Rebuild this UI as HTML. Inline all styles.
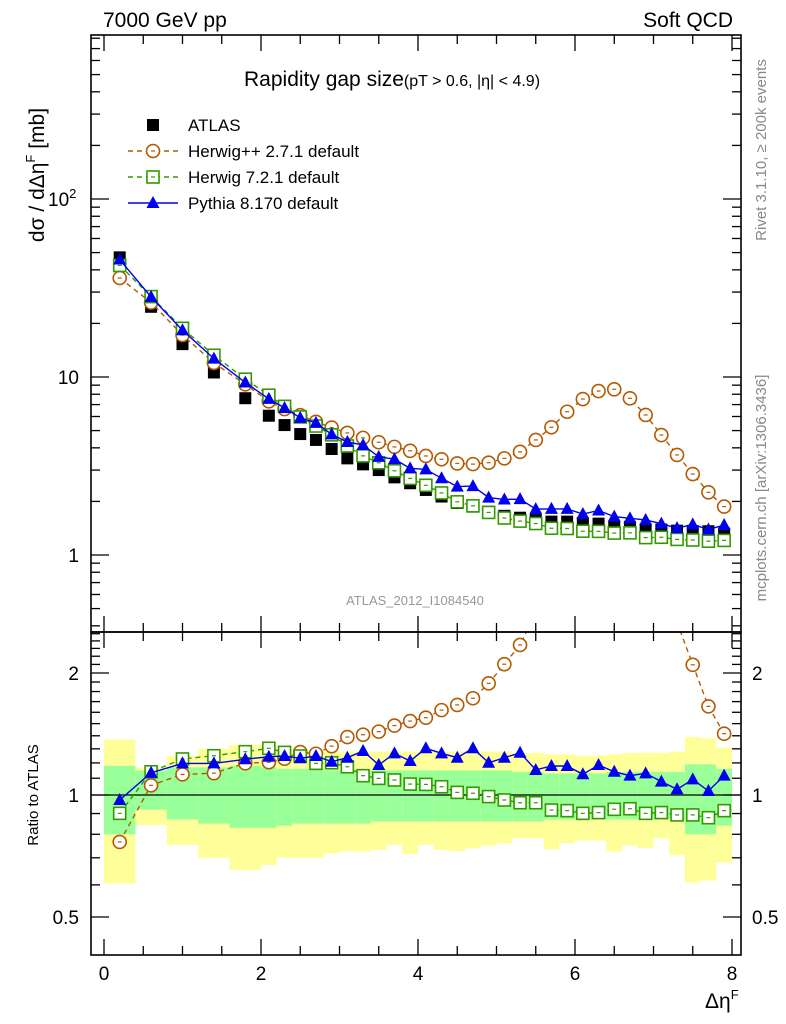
<!DOCTYPE html>
<html><head><meta charset="utf-8"><style>
body{margin:0;background:#fff;}
svg{display:block;font-family:"Liberation Sans",Arial,sans-serif;}
</style></head><body>
<svg id="chart" width="786" height="1024" viewBox="0 0 786 1024"></svg>
<script>
// ---- data ----
const binEdges = [0,0.4,0.8,1.2,1.6,2.0,2.2,2.4,2.6,2.8,3.0,3.2,3.4,3.6,3.8,4.0,4.2,4.4,4.6,4.8,5.0,5.2,5.4,5.6,5.8,6.0,6.2,6.4,6.6,6.8,7.0,7.2,7.4,7.6,7.8,8.0];
const atlasValues = [47,24.8,15.3,10.6,7.6,6.06,5.37,4.78,4.43,3.94,3.49,3.23,3.0,2.73,2.53,2.32,2.13,1.96,1.87,1.75,1.66,1.62,1.57,1.54,1.54,1.51,1.50,1.44,1.44,1.39,1.39,1.37,1.36,1.36,1.32];
const herwigPPValues = [36,26.2,17.2,12.0,9.1,7.3,6.6,6.1,5.6,5.2,4.85,4.55,4.3,4.05,3.85,3.60,3.45,3.27,3.24,3.30,3.49,3.80,4.43,5.22,6.38,7.52,8.34,8.53,7.59,6.12,4.72,3.65,2.85,2.25,1.87];
const herwig7OverData = [0.901,1.141,1.227,1.25,1.279,1.304,1.274,1.248,1.197,1.201,1.174,1.116,1.099,1.089,1.064,1.062,1.048,1.015,1.01,0.991,0.972,0.957,0.957,0.918,0.915,0.901,0.905,0.922,0.925,0.901,0.905,0.893,0.893,0.879,0.915];
const pythiaOverData = [0.972,1.135,1.197,1.197,1.225,1.243,1.248,1.232,1.248,1.208,1.236,1.284,1.186,1.267,1.213,1.304,1.267,1.236,1.304,1.201,1.236,1.271,1.153,1.179,1.179,1.125,1.186,1.141,1.116,1.131,1.079,1.033,1.093,1.023,1.116];
const yellowUp = [1.37,1.17,1.25,1.30,1.33,1.32,1.30,1.30,1.29,1.28,1.28,1.28,1.28,1.28,1.28,1.28,1.28,1.28,1.28,1.28,1.28,1.27,1.27,1.26,1.26,1.25,1.25,1.26,1.27,1.27,1.27,1.28,1.39,1.38,1.31];
const greenUp = [1.18,1.15,1.17,1.17,1.18,1.17,1.16,1.16,1.16,1.15,1.15,1.15,1.15,1.15,1.15,1.15,1.15,1.15,1.15,1.15,1.15,1.14,1.14,1.13,1.13,1.13,1.13,1.14,1.14,1.14,1.14,1.14,1.19,1.19,1.16];
const greenDn = [0.80,0.92,0.87,0.85,0.83,0.83,0.84,0.85,0.85,0.85,0.85,0.85,0.86,0.86,0.86,0.86,0.86,0.86,0.86,0.86,0.86,0.86,0.86,0.87,0.87,0.87,0.87,0.87,0.87,0.87,0.87,0.87,0.80,0.80,0.84];
const yellowDn = [0.605,0.843,0.753,0.70,0.653,0.672,0.70,0.70,0.70,0.718,0.725,0.725,0.732,0.753,0.715,0.753,0.732,0.727,0.739,0.75,0.76,0.782,0.782,0.735,0.76,0.772,0.772,0.725,0.75,0.739,0.782,0.711,0.608,0.615,0.681];
const xTickLabels = [0,2,4,6,8];
const ratioTickLabels = [0.5,1,2];

// ---- axes ----
const L=91,R=741,T=35,MID=632,B=955;
const X=v=>104+v*78.5;
const YT=v=>555-178*Math.log10(v);
const YR=r=>795-122*Math.log2(r);
const NS="http://www.w3.org/2000/svg";
const svg=document.getElementById('chart');
function mk(tag,attrs,parent){const e=document.createElementNS(NS,tag);for(const k in attrs)e.setAttribute(k,attrs[k]);(parent||svg).appendChild(e);return e;}
const centers=binEdges.slice(0,-1).map((e,i)=>(e+binEdges[i+1])/2);
const herwig7Values=atlasValues.map((d,i)=>d*herwig7OverData[i]);
const pythiaValues=atlasValues.map((d,i)=>d*pythiaOverData[i]);

const defs=mk('defs',{});
const c1=mk('clipPath',{id:'cTop'},defs);mk('rect',{x:L,y:T,width:R-L,height:MID-T},c1);
const c2=mk('clipPath',{id:'cRat'},defs);mk('rect',{x:L,y:MID,width:R-L,height:B-MID},c2);

// bands
const gBand=mk('g',{'clip-path':'url(#cRat)'});


binEdges.slice(0,-1).forEach((e,i)=>{
  const x0=X(e),x1=X(binEdges[i+1]);
  const y=mk('rect',{x:x0,y:YR(yellowUp[i]),width:x1-x0,height:YR(yellowDn[i])-YR(yellowUp[i]),fill:'#ffff99'},gBand);
  
  
  const g=mk('rect',{x:x0,y:YR(greenUp[i]),width:x1-x0,height:YR(greenDn[i])-YR(greenUp[i]),fill:'#99ff99'},gBand);
  
  
});
const one=mk('line',{x1:L,x2:R,y1:YR(1),y2:YR(1),stroke:'#000','stroke-width':1.2});



// series drawing
function drawMarker(g,type,x,y,color){
  if(type==='circle'){mk('circle',{cx:x,cy:y,r:6.5,fill:'#fff',stroke:color,'stroke-width':1.6},g);mk('line',{x1:x-2,x2:x+2,y1:y,y2:y,stroke:color,'stroke-width':1.2},g);}
  else if(type==='square'){mk('rect',{x:x-6,y:y-6,width:12,height:12,fill:'#fff',stroke:color,'stroke-width':1.6},g);mk('line',{x1:x-2,x2:x+2,y1:y,y2:y,stroke:color,'stroke-width':1.2},g);}
  else if(type==='tri'){mk('polygon',{points:`${x},${y-7} ${x-6.5},${y+5} ${x+6.5},${y+5}`,fill:color},g);}
  else if(type==='data'){mk('rect',{x:x-6,y:y-6,width:12,height:12,fill:'#000'},g);}
}
function series(name,vals,yf,clip,color,dash,type,line){
  const g=mk('g',{'clip-path':`url(#${clip})`});
  
  
  if(line){
    const pts=vals.map((v,i)=>`${X(centers[i]).toFixed(1)},${yf(v).toFixed(1)}`).join(' ');
    mk('polyline',{points:pts,fill:'none',stroke:color,'stroke-width':1.4,'stroke-dasharray':dash||'none'},g);
  }
  vals.forEach((v,i)=>drawMarker(g,type,X(centers[i]),yf(v),color));
}
series('atlas-data-points',atlasValues,YT,'cTop','#000',null,'data',false);
series('herwigpp-curve',herwigPPValues,YT,'cTop','#b35900','5,4','circle',true);
series('herwig7-curve',herwig7Values,YT,'cTop','#339900','5,4','square',true);
series('pythia-curve',pythiaValues,YT,'cTop','#0000ee',null,'tri',true);
series('herwigpp-ratio',herwigPPValues.map((v,i)=>v/atlasValues[i]),YR,'cRat','#b35900','5,4','circle',true);
series('herwig7-ratio',herwig7OverData,YR,'cRat','#339900','5,4','square',true);
series('pythia-ratio',pythiaOverData,YR,'cRat','#0000ee',null,'tri',true);

// frames
[[T,MID,'top-panel-frame'],[MID,B,'ratio-panel-frame']].forEach(([a,b,n])=>{
  const r=mk('rect',{x:L,y:a,width:R-L,height:b-a,fill:'none',stroke:'#000','stroke-width':1.6});
  
  
});
// x ticks
const tk=mk('g',{stroke:'#000','stroke-width':1.3});


for(let v=0;v<=8.01;v+=0.5){
  const x=X(v),major=Math.abs(v-Math.round(v/2)*2)<1e-6,l=major?16:9;
  [[T,1],[MID,-1],[MID,1],[B,-1]].forEach(([y,s])=>mk('line',{x1:x,x2:x,y1:y,y2:y+s*l},tk));
}
// top y ticks
for(let d=-1;d<=2;d++)for(let m=1;m<=9;m++){
  const v=m*Math.pow(10,d),y=YT(v);if(y<T||y>MID)continue;
  const l=m===1?18:9;
  mk('line',{x1:L,x2:L+l,y1:y,y2:y},tk);mk('line',{x1:R,x2:R-l,y1:y,y2:y},tk);
}
// ratio y ticks
for(let v=0.4;v<=2.55;v+=0.1){
  const y=YR(v);if(y<MID||y>B)continue;
  const major=[0.5,1,2].some(z=>Math.abs(z-v)<1e-6);const l=major?18:9;
  mk('line',{x1:L,x2:L+l,y1:y,y2:y},tk);mk('line',{x1:R,x2:R-l,y1:y,y2:y},tk);
}
function txt(s,attrs,name){const t=mk('text',attrs);t.innerHTML=s;return t;}
xTickLabels.forEach(v=>txt(String(v),{x:X(v),y:980,'font-size':19,'text-anchor':'middle'},'x-tick-label'));
ratioTickLabels.forEach(v=>{
  txt(String(v),{x:79,y:YR(v)+7,'font-size':19,'text-anchor':'end'},'ratio-tick-label-left');
  txt(String(v),{x:752,y:YR(v)+7,'font-size':19,'text-anchor':'start'},'ratio-tick-label-right');
});
txt('10<tspan dy="-8" font-size="13">2</tspan>',{x:48,y:YT(100)+7,'font-size':19},'y-tick-label-100');
txt('10',{x:79,y:YT(10)+7,'font-size':19,'text-anchor':'end'},'y-tick-label-10');
txt('1',{x:79,y:YT(1)+7,'font-size':19,'text-anchor':'end'},'y-tick-label-1');

txt('7000 GeV pp',{x:103,y:27,'font-size':21},'energy-label');
txt('Soft QCD',{x:733,y:27,'font-size':21,'text-anchor':'end'},'process-label');
txt('Rapidity gap size<tspan font-size="16">(pT &gt; 0.6, |η| &lt; 4.9)</tspan>',{x:244,y:86,'font-size':21},'plot-title');
txt('dσ / dΔη<tspan dy="-9" font-size="13">F</tspan><tspan dy="9"> [mb]</tspan>',{x:0,y:0,'font-size':21,'text-anchor':'middle',transform:'translate(44,175) rotate(-90)'},'y-axis-title');
txt('Ratio to ATLAS',{x:0,y:0,'font-size':15,'text-anchor':'middle',transform:'translate(38,795) rotate(-90)'},'ratio-axis-title');
txt('Δη<tspan dy="-9" font-size="13">F</tspan>',{x:705,y:1008,'font-size':21},'x-axis-title');
txt('Rivet 3.1.10, ≥ 200k events',{x:0,y:0,'font-size':15,fill:'#888','text-anchor':'middle',transform:'translate(766,150) rotate(-90)'},'rivet-label');
txt('mcplots.cern.ch [arXiv:1306.3436]',{x:0,y:0,'font-size':15,fill:'#888','text-anchor':'middle',transform:'translate(766,488) rotate(-90)'},'mcplots-label');
txt('ATLAS_2012_I1084540',{x:415,y:605,'font-size':13,fill:'#999','text-anchor':'middle'},'analysis-id');

// legend
const legendNames=['ATLAS','Herwig++ 2.7.1 default','Herwig 7.2.1 default','Pythia 8.170 default'];
const legendStyles=[['data','#000',null],['circle','#b35900','5,4'],['square','#339900','5,4'],['tri','#0000ee',null]];
legendNames.forEach((n,i)=>{
  const y=125+i*26;
  const g=mk('g',{});
  
  
  const [type,col,dash]=legendStyles[i];
  if(i>0)mk('line',{x1:128,x2:178,y1:y,y2:y,stroke:col,'stroke-width':1.4,'stroke-dasharray':dash||'none'},g);
  drawMarker(g,type,153,y,col);
  const t=mk('text',{x:188,y:y+6,'font-size':17},g);t.textContent=n;
});
</script>
</body></html>
